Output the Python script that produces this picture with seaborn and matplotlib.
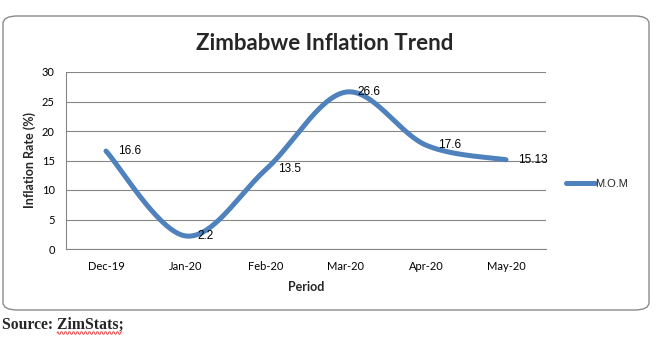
import numpy as np
import pandas as pd
import matplotlib
matplotlib.use("Agg")
import matplotlib.pyplot as plt
import seaborn as sns
from matplotlib.patches import FancyBboxPatch
from matplotlib.lines import Line2D

# Month-on-month inflation, Zimbabwe
periods = ["Dec-19", "Jan-20", "Feb-20", "Mar-20", "Apr-20", "May-20"]
mom_rate = [16.6, 2.2, 13.5, 26.6, 17.6, 15.13]
rate_labels = ["16.6", "2.2", "13.5", "26.6", "17.6", "15.13"]
y_ticks = [0, 5, 10, 15, 20, 25, 30]
series_name = "M.O.M"

LINE_BLUE = "#4F81BD"
GRID_GREY = "#868686"


def smooth_curve(xv, yv, n=60):
    """Catmull-Rom style Bezier smoothing through every point."""
    pts = np.column_stack([xv, yv]).astype(float)
    ext = np.vstack([pts[0], pts, pts[-1]])
    out = []
    t = np.linspace(0, 1, n)[:, None]
    for i in range(len(pts) - 1):
        p0, p1, p2, p3 = ext[i], ext[i + 1], ext[i + 2], ext[i + 3]
        b1 = p1 + (p2 - p0) / 6.0
        b2 = p2 - (p3 - p1) / 6.0
        seg = ((1 - t) ** 3) * p1 + 3 * ((1 - t) ** 2) * t * b1 \
            + 3 * (1 - t) * t ** 2 * b2 + t ** 3 * p2
        out.append(seg if i == 0 else seg[1:])
    out = np.vstack(out)
    return out[:, 0], out[:, 1]


sns.set_theme(style="white")
plt.rcParams["font.family"] = ["Lato", "DejaVu Sans"]

fig = plt.figure(figsize=(6.59, 3.38), dpi=100)
W, H = 659.0, 338.0

# rounded chart frame, kept behind the axes
frame = FancyBboxPatch((3 / W, 28 / H), 646 / W, 294 / H,
                       boxstyle="round,pad=0,rounding_size=0.022",
                       transform=fig.transFigure, facecolor="none",
                       edgecolor="#8a8a8a", linewidth=1.0, zorder=-1)
fig.patches.append(frame)

ax = fig.add_axes([66 / W, 89 / H, 480 / W, 177 / H])
ax.set_facecolor("none")

xpos = np.arange(len(periods))
sx, sy = smooth_curve(xpos, mom_rate)
curve = pd.DataFrame({"x": sx, "y": sy})
sns.lineplot(data=curve, x="x", y="y", ax=ax, color=LINE_BLUE, linewidth=3.6,
             sort=False, estimator=None, legend=False,
             solid_capstyle="round")

for i, (v, lab) in enumerate(zip(mom_rate, rate_labels)):
    ax.annotate(lab, (xpos[i], v), xytext=(8.5, 0), textcoords="offset points",
                va="center", ha="left", fontsize=8.5, color="black", zorder=5,
                family="Liberation Sans")

ax.set_xlim(-0.5, len(periods) - 0.5)
ax.set_ylim(0, 30)
ax.set_yticks(y_ticks)
ax.set_xticks(xpos)
ax.set_xticklabels(periods)
ax.yaxis.grid(True, color=GRID_GREY, linewidth=0.8)
ax.xaxis.grid(False)
ax.set_axisbelow(True)
for side in ["top", "right"]:
    ax.spines[side].set_visible(False)
for side in ["left", "bottom"]:
    ax.spines[side].set_color(GRID_GREY)
    ax.spines[side].set_linewidth(0.8)
ax.tick_params(axis="both", length=0, labelsize=8, colors="black")
ax.tick_params(axis="y", pad=8)
ax.tick_params(axis="x", pad=9)

ax.set_xlabel("Period", fontsize=9, fontweight="bold", labelpad=6)
ax.set_ylabel("Inflation Rate (%)", fontsize=9, fontweight="bold", labelpad=4)

fig.text(325 / W, 1 - 43 / H, "Zimbabwe Inflation Trend", ha="center",
         va="center", fontsize=16, fontweight="bold")

handle = Line2D([], [], color=LINE_BLUE, linewidth=3.6, solid_capstyle="round")
fig.legend([handle], [series_name], loc="center left",
           bbox_to_anchor=(562 / W, 1 - 184 / H), frameon=False,
           handlelength=2.6, handletextpad=0.0, borderaxespad=0,
           prop={"family": "Liberation Sans", "size": 8})

fig.text(2 / W, 1 - 325 / H, "Source: ZimStats;", ha="left", va="center",
         fontsize=11.3, fontweight="bold", family="Liberation Serif")

# red spell-check squiggle under the source name
sq_x = np.linspace(57, 122, 66) / W
sq_y = (1 - 333 / H) + 0.0035 * np.sign(np.sin(np.linspace(0, 66 * np.pi / 2, 66)))
fig.add_artist(Line2D(sq_x, sq_y, transform=fig.transFigure, color="#e03030",
                      linewidth=0.6))

fig.savefig("out.png", dpi=100)
